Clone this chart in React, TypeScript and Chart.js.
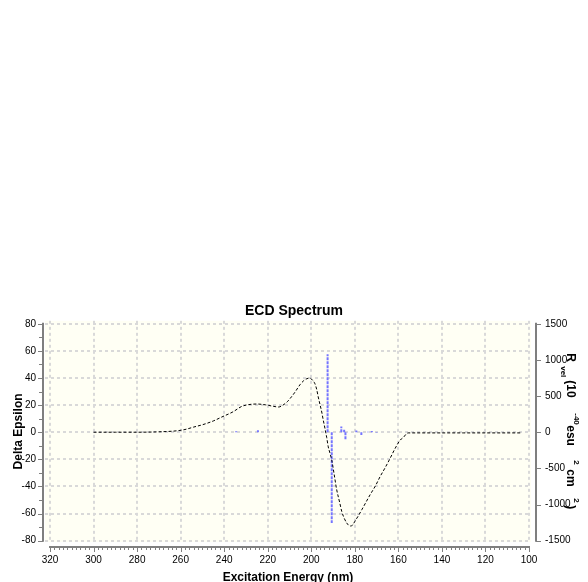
import React, { useEffect, useRef } from "react";
import { Chart, registerables } from "chart.js";

Chart.register(...registerables);

// ECD curve: wavelength (nm) and Delta Epsilon
const curveNm = [300, 290, 280, 270, 262, 258, 254, 250, 245, 241, 236, 232, 229, 225, 221, 218, 215, 213, 211, 209.8, 207.5, 205.2, 203.5, 202, 200.8, 199.5, 198.3, 197.5, 196.8, 196, 195.2, 194.5, 193.7, 192.9, 192.2, 191.4, 190.6, 189.5, 188.3, 187, 186, 185, 183.7, 182.2, 181, 180, 178.5, 176.8, 175, 173, 170.5, 168.4, 166, 163.8, 161.5, 159.2, 157.5, 156.5, 155.5, 150, 140, 130, 120, 110, 104];
const curveDelta = [0, 0, 0, 0.3, 1, 2, 3.8, 5.5, 8.3, 11.3, 15, 19, 20.3, 20.8, 20.2, 19.3, 18.6, 20, 22.5, 24.7, 29.5, 35, 38, 39.5, 40, 38.5, 35.7, 31.5, 26, 20.5, 14.9, 9, 2.7, -4, -10.8, -15.5, -20.5, -31, -42.6, -51.5, -58.5, -63, -67, -69.2, -68.5, -65.8, -62, -57.2, -52, -46.2, -39.5, -32.8, -26, -19.3, -12, -5.9, -3.5, -1.5, -0.5, -0.5, -0.5, -0.5, -0.5, -0.5, -0.5];

// Rotatory strengths (sticks): wavelength (nm) and R_vel (1e-40 esu^2 cm^2)
const stickNm = [234.5, 224.5, 192.5, 190.6, 186.2, 184.9, 184.3, 179.3, 177, 174, 172.2, 170];
const stickR = [12, 28, 1080, -1257, 80, 35, -100, 25, -40, 5, 18, -8];

// Tick labels
const xTicks = [320, 300, 280, 260, 240, 220, 200, 180, 160, 140, 120, 100];
const yTicks = [-80, -60, -40, -20, 0, 20, 40, 60, 80];
const yRTicks = [-1500, -1000, -500, 0, 500, 1000, 1500];

const FONT = "'Liberation Sans', Arial, Helvetica, sans-serif";

const decor = {
  id: "decor",
  beforeDraw(chart: any) {
    const { ctx, chartArea: a } = chart;
    ctx.save();
    ctx.fillStyle = "#fffff4";
    ctx.fillRect(a.left, a.top, a.right - a.left, a.bottom - a.top);
    ctx.restore();
  },
  afterDraw(chart: any) {
    const { ctx, chartArea: a, scales } = chart;
    const xs = scales.x;
    const ys = scales.y;
    const yr = scales.yR;
    ctx.save();
    ctx.strokeStyle = "#7f7f7f";
    const line = (x1: number, y1: number, x2: number, y2: number, w: number) => {
      ctx.lineWidth = w;
      ctx.beginPath();
      ctx.moveTo(x1, y1);
      ctx.lineTo(x2, y2);
      ctx.stroke();
    };
    // left axis
    const lx = a.left - 2;
    const yTop = ys.getPixelForValue(yTicks[yTicks.length - 1]);
    const yBot = ys.getPixelForValue(yTicks[0]);
    line(lx, yTop - 1, lx, yBot + 1, 2);
    for (let v = yTicks[0]; v <= yTicks[yTicks.length - 1]; v += 10) {
      const py = Math.round(ys.getPixelForValue(v)) + 0.5;
      const major = v % 20 === 0;
      line(lx - (major ? 5 : 4), py, lx, py, 1);
    }
    // right axis
    const rx = a.right + 5;
    line(rx, yr.getPixelForValue(yRTicks[yRTicks.length - 1]) - 1, rx, yr.getPixelForValue(yRTicks[0]) + 1, 2);
    for (const v of yRTicks) {
      const py = Math.round(yr.getPixelForValue(v)) + 0.5;
      line(rx, py, rx + 5, py, 1);
    }
    // bottom axis
    const by = a.bottom + 5;
    const xl = xs.getPixelForValue(xTicks[0]);
    const xr = xs.getPixelForValue(xTicks[xTicks.length - 1]);
    line(xl - 1, by, xr + 1, by, 2);
    for (let v = xTicks[xTicks.length - 1]; v <= xTicks[0]; v += 2) {
      const px = Math.round(xs.getPixelForValue(v)) + 0.5;
      const major = v % 20 === 0;
      line(px, by, px, by + (major ? 5 : 3), 1);
    }
    // right axis title with sub/superscripts, rotated
    const segs = [
      { t: "R", s: 12, at: 0, sh: 0 },
      { t: "vel", s: 8, at: 13, sh: 6 },
      { t: "(10", s: 12, at: 27, sh: 0 },
      { t: "-40", s: 8, at: 60, sh: -7 },
      { t: "esu", s: 12, at: 72, sh: 0 },
      { t: "2", s: 8, at: 107, sh: -7 },
      { t: "cm", s: 12, at: 116, sh: 0 },
      { t: "2", s: 8, at: 145, sh: -7 },
      { t: ")", s: 12, at: 152, sh: 0 },
    ];
    ctx.translate(a.right + 36, ys.getPixelForValue(0) - 79);
    ctx.rotate(Math.PI / 2);
    ctx.fillStyle = "#000";
    ctx.textAlign = "left";
    ctx.textBaseline = "alphabetic";
    for (const g of segs) {
      ctx.font = `bold ${g.s}px ${FONT}`;
      ctx.fillText(g.t, g.at, g.sh);
    }
    ctx.restore();
  },
};

export default function App() {
  const ref = useRef<HTMLCanvasElement>(null);
  useEffect(() => {
    const canvas = ref.current;
    if (!canvas) return;
    Chart.defaults.font.family = FONT;
    Chart.defaults.color = "#000";

    const curve = curveNm.map((x, i) => ({ x, y: curveDelta[i] }));
    const sticks: any[] = [];
    stickNm.forEach((x, i) => {
      sticks.push({ x, y: 0 });
      sticks.push({ x, y: stickR[i] });
      sticks.push({ x, y: null });
    });

    const gridOpts = { color: "#d9d9d9", lineWidth: 2, drawTicks: false };
    const borderOpts = { display: false, dash: [3, 3] };

    const chart = new Chart(canvas, {
      type: "line",
      data: {
        datasets: [
          {
            label: "ECD",
            data: curve,
            yAxisID: "y",
            borderColor: "#000",
            borderWidth: 1,
            borderDash: [3, 2],
            pointRadius: 0,
            cubicInterpolationMode: "monotone",
            fill: false,
            order: 0,
          },
          {
            label: "R",
            data: sticks,
            yAxisID: "yR",
            borderColor: "#7575ff",
            borderWidth: 2,
            borderDash: [3, 1],
            pointRadius: 0,
            spanGaps: false,
            tension: 0,
            fill: false,
            order: 1,
          },
        ],
      } as any,
      options: {
        responsive: false,
        animation: false,
        layout: { padding: { top: 303, left: 0, right: 0, bottom: 0 } },
        plugins: {
          legend: { display: false },
          tooltip: { enabled: false },
          title: {
            display: true,
            text: "ECD Spectrum",
            color: "#000",
            font: { size: 14, weight: "bold" },
            padding: { top: 0, bottom: 1 },
          },
        },
        scales: {
          x: {
            type: "linear",
            reverse: true,
            min: 99.08,
            max: 322.3,
            afterBuildTicks: (s: any) => {
              s.ticks = xTicks.map((v) => ({ value: v }));
            },
            afterFit: (s: any) => {
              s.height = 40;
            },
            grid: gridOpts,
            border: borderOpts,
            ticks: { padding: 12, font: { size: 10 }, autoSkip: false, maxRotation: 0, callback: (v: any) => String(v) },
            title: {
              display: true,
              text: "Excitation Energy (nm)",
              font: { size: 12, weight: "bold" },
              padding: { top: 0, bottom: -3 },
            },
          },
          y: {
            type: "linear",
            position: "left",
            min: -81,
            max: 82.2,
            afterBuildTicks: (s: any) => {
              s.ticks = yTicks.map((v) => ({ value: v }));
            },
            afterFit: (s: any) => {
              s.width = 45;
            },
            grid: gridOpts,
            border: borderOpts,
            ticks: { padding: 9, font: { size: 10 }, callback: (v: any) => String(v) },
            title: {
              display: true,
              text: "Delta Epsilon",
              font: { size: 12, weight: "bold" },
              padding: { top: 11, bottom: 0 },
            },
          },
          yR: {
            type: "linear",
            position: "right",
            min: -1518.75,
            max: 1541.25,
            afterBuildTicks: (s: any) => {
              s.ticks = yRTicks.map((v) => ({ value: v }));
            },
            afterFit: (s: any) => {
              s.width = 57;
            },
            grid: { drawOnChartArea: false, drawTicks: false },
            border: { display: false },
            ticks: { padding: 14, font: { size: 10 }, callback: (v: any) => String(v) },
          },
        },
      } as any,
      plugins: [decor],
    });
    return () => chart.destroy();
  }, []);

  return (
    <div style={{ position: "absolute", left: 0, top: 0, width: 588, height: 582 }}>
      <canvas ref={ref} width={588} height={582} style={{ display: "block" }} />
    </div>
  );
}
